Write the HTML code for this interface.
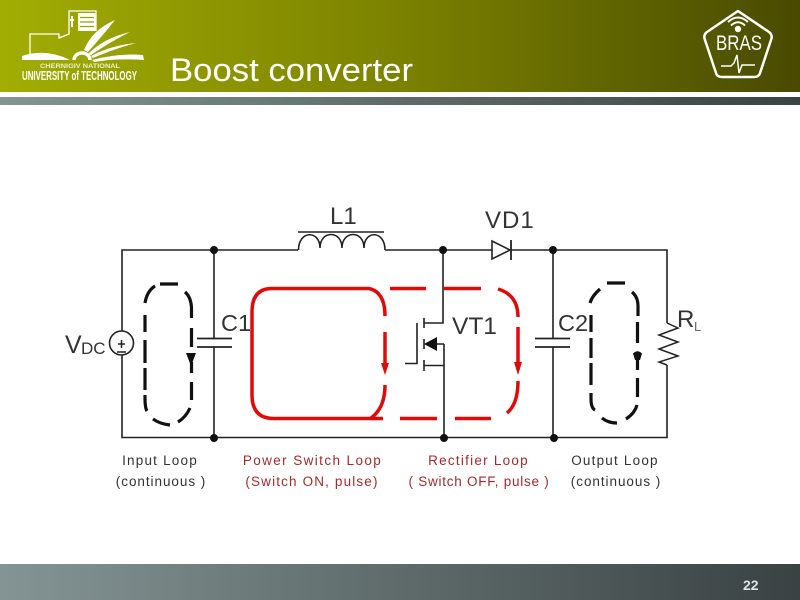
<!DOCTYPE html>
<html><head><meta charset="utf-8"><style>
html,body{margin:0;padding:0;background:#fff}
svg{display:block}
text{font-family:"Liberation Sans",sans-serif}
</style></head><body>
<svg width="800" height="600" viewBox="0 0 800 600" xmlns="http://www.w3.org/2000/svg">
<defs>
<linearGradient id="h" x1="0" x2="1" y1="0" y2="0"><stop offset="0" stop-color="#a2ad03"/><stop offset=".5" stop-color="#7b8200"/><stop offset="1" stop-color="#494a00"/></linearGradient>
<linearGradient id="b" x1="0" x2="1" y1="0" y2="0"><stop offset="0" stop-color="#849494"/><stop offset="1" stop-color="#3a4242"/></linearGradient>
</defs>
<rect width="800" height="600" fill="#fff"/>
<rect width="800" height="92" fill="url(#h)"/>
<rect y="97" width="800" height="8" fill="url(#b)"/>
<rect y="564" width="800" height="36" fill="url(#b)"/>

<!-- left logo -->
<g fill="none" stroke="#fff">
<path d="M30 56V34H59V38L69 34V11H96V31" stroke-width="1.3"/>
<rect x="78" y="13" width="18" height="18" fill="#fff" stroke="none"/>
<path d="M80 17.500H94M80 22H94M80 26.500H94" stroke="#98a202" stroke-width="1.2"/>
<path d="M72 16V27M70 20H74" stroke="#fff" stroke-width="2"/>
<path d="M84 50Q92 30 115 20Q104 34 88 52Z" fill="#fff" stroke="none"/>
<path d="M88 54Q104 38 130 32Q110 42 91 55Z" fill="#fff" stroke="none"/>
<path d="M91 56Q112 45 136 43Q114 49 93 58Z" fill="#fff" stroke="none"/>
<path d="M92 60Q118 53 143 55L144 60Q116 58 94 62Z" fill="#fff" stroke="none"/>
<path d="M22 56Q46 48 70 60H22Z" fill="#fff" stroke="none"/>
<path d="M74 60A8 7 0 0 1 90 60" stroke-width="3.500"/>
</g>
<text x="40" y="68" font-size="6.800" font-weight="bold" fill="#eef0c8" textLength="80" lengthAdjust="spacingAndGlyphs">CHERNIGIV NATIONAL</text>
<text x="22" y="80" font-size="12.500" font-weight="bold" fill="#fff" textLength="115" lengthAdjust="spacingAndGlyphs">UNIVERSITY of TECHNOLOGY</text>

<text x="170" y="81" font-size="32" fill="#fff" textLength="243" lengthAdjust="spacingAndGlyphs">Boost converter</text>

<!-- right logo -->
<path d="M738 11L769 32Q773 35 771 40L760 73Q759 77 754 77H722Q717 77 716 73L705 40Q703 35 707 32Z" fill="none" stroke="#fff" stroke-width="2.500" stroke-linejoin="round"/>
<g fill="none" stroke="#fff" stroke-width="2">
<path d="M728 22Q738 13 748 22"/><path d="M731 25.500Q738 19 745 25.500"/>
</g>
<circle cx="738" cy="29" r="3.200" fill="#fff"/>
<text x="739" y="50" font-size="21" fill="#fff" text-anchor="middle" textLength="46" lengthAdjust="spacingAndGlyphs">BRAS</text>
<path d="M721 66H731L734 63L737 55L739 73L742 65H755" fill="none" stroke="#fff" stroke-width="1.500"/>

<!-- red loops -->
<g fill="none" stroke="#e00a0a" stroke-width="3.500">
<path d="M370 288.500H272Q252 288.500 252 312V395Q252 418.500 274 418.500H370"/>
<path d="M369 288.500Q385 292 385 316"/>
<path d="M385 332V368"/>
<path d="M385 385Q385 408 371 418"/>
<path d="M370 418.500H383"/>
<path d="M390 288.500H426M444 288.500H481M498 289Q518 295 518 317M518 327V370M518 381Q518 404 507 413M400 418.500H437M455 418.500H491"/>
</g>
<path d="M381 363H389L385 375Z" fill="#e00a0a"/>
<path d="M514 362H522L518 375Z" fill="#e00a0a"/>

<!-- black circuit -->
<g fill="none" stroke="#222" stroke-width="1.600">
<path d="M122 331V250H298M385 250H667V323"/>
<path d="M122 355V437.500H667V365"/>
<path d="M214 250V338.500M214 347V438"/>
<path d="M197 338.500H232M197 347H232" stroke-width="1.800"/>
<path d="M553 250V338.500M553 347V438"/>
<path d="M535 338.500H570M535 347H570" stroke-width="1.800"/>
<circle cx="121.500" cy="343" r="12"/>
<path d="M298 232H384"/>
<path d="M298.500 250C298.500 230 320 230 320 248C320 230 342 230 342 248C342 230 364 230 364 248C364 230 385 230 385 250"/>
<path d="M492 241L510 250L492 259Z" fill="#fff"/>
<path d="M511 240V260" stroke-width="1.800"/>
<path d="M443 250V323H424M424 318V328M424 339V349M424 360V371M424 365.500H444M444 344V438M434 344H444"/>
<path d="M417 323V363.500H405"/>
<path d="M667 323L678 328L659 335L678 342L659 349L678 356L659 362L667 365" stroke-width="1.500"/>
</g>
<path d="M424 344L437 337V351Z" fill="#111"/>
<path d="M118 344H125M121.500 340V348M117 352H126" stroke="#222" stroke-width="1.500" fill="none"/>
<g fill="#111">
<circle cx="214" cy="250" r="4"/><circle cx="214" cy="438" r="4"/>
<circle cx="443" cy="250" r="4"/><circle cx="444" cy="438" r="4"/>
<circle cx="553" cy="250" r="4"/><circle cx="554" cy="438" r="4"/>
</g>

<!-- black dashed loops -->
<g fill="none" stroke="#111" stroke-width="3.200">
<path d="M145 303Q147 291 155 286M160 284H178M185 292Q191 297 191.500 308V318M191.500 328V347M191.500 362V373M191.500 382V400M190 408Q186 417 178 422M170 425Q160 424 153 419M147 411Q145 408 145 398V395M145 390V368M145 363V340M145 332V315"/>
<path d="M590 303Q592 296 600 289M607 283H625M632 292Q638 297 638 306V316M637.500 322V343M637.500 360V370M637.500 378V397M637 405Q635 413 626 419M617 423Q608 423 602 418M595 410Q591 408 591 399V393M591 385V363M591 358V338M591 332V315"/>
</g>
<path d="M186 353H196L191 366Z" fill="#111"/>
<path d="M633 353.500Q637.500 349 642 353.500L640 360H635Z" fill="#111"/>

<!-- labels -->
<g fill="#333">
<text x="65" y="353" font-size="25">V</text>
<text x="81" y="354" font-size="17">DC</text>
<text x="221" y="331" font-size="23.500">C1</text>
<text x="330" y="224" font-size="24">L1</text>
<text x="485" y="228" font-size="24" letter-spacing="1">VD1</text>
<text x="452" y="334" font-size="24.500">VT1</text>
<text x="558" y="331" font-size="23.500">C2</text>
<text x="677" y="327" font-size="24">R</text>
<text x="694" y="331" font-size="13" fill="#666">L</text>
</g>
<g font-size="13.500" text-anchor="middle">
<text x="160" y="465" fill="#333" letter-spacing="1.200">Input Loop</text>
<text x="161" y="486" fill="#333" letter-spacing=".95">(continuous )</text>
<text x="312.500" y="465" fill="#a52a2a" letter-spacing="1.400">Power Switch Loop</text>
<text x="312" y="486" fill="#a52a2a" letter-spacing="1.150">(Switch ON, pulse)</text>
<text x="478.500" y="465" fill="#a52a2a" letter-spacing="1.250">Rectifier Loop</text>
<text x="479" y="486" fill="#a52a2a" letter-spacing=".75">( Switch OFF, pulse )</text>
<text x="615" y="465" fill="#333" letter-spacing="1.200">Output Loop</text>
<text x="616" y="486" fill="#333" letter-spacing=".95">(continuous )</text>
</g>
<text x="743" y="590" font-size="14" font-weight="bold" fill="#dfe3e3">22</text>
</svg>
</body></html>
